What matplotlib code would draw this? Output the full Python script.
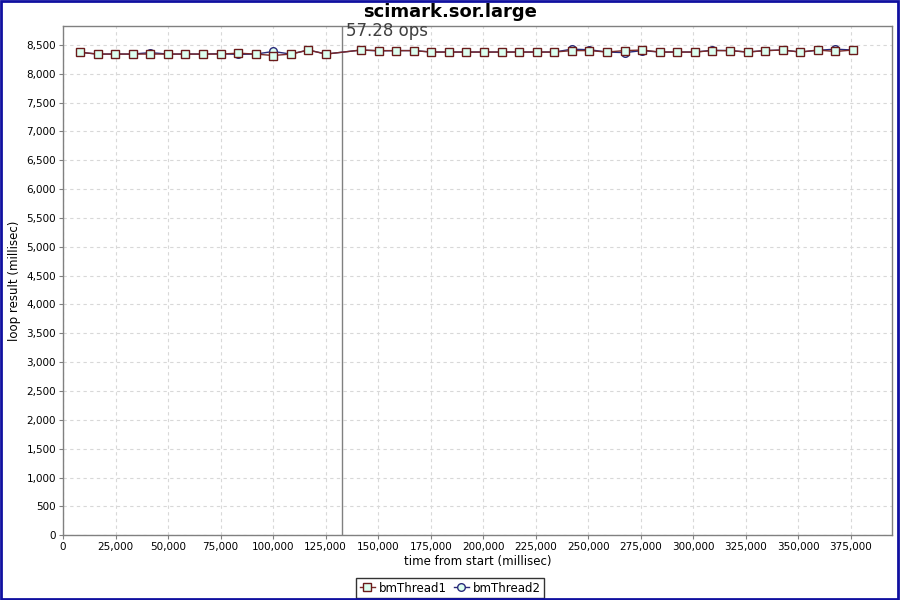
import matplotlib
matplotlib.use("Agg")
import matplotlib.pyplot as plt
from matplotlib.ticker import FuncFormatter, MultipleLocator
from matplotlib.patches import Rectangle

# sample times (ms) - one sample missing around 133,000
time_ms = [8100, 16460, 24820, 33180, 41540, 49900, 58260, 66620, 74980, 83340,
           91700, 100060, 108420, 116780, 125140, 141860, 150220, 158580, 166940,
           175300, 183660, 192020, 200380, 208740, 217100, 225460, 233820, 242180,
           250540, 258900, 267260, 275620, 283980, 292340, 300700, 309060, 317420,
           325780, 334140, 342500, 350860, 359220, 367580, 375940]

thread1 = [8370, 8340, 8340, 8340, 8340, 8340, 8340, 8340, 8340, 8355,
           8340, 8315, 8340, 8410, 8340, 8410, 8400, 8400, 8400,
           8375, 8375, 8375, 8375, 8375, 8375, 8375, 8375, 8400,
           8400, 8375, 8400, 8410, 8375, 8375, 8375, 8400, 8400,
           8375, 8400, 8410, 8375, 8410, 8385, 8410]

thread2 = [8370, 8340, 8340, 8340, 8365, 8340, 8340, 8340, 8345, 8335,
           8340, 8385, 8340, 8410, 8340, 8410, 8395, 8400, 8400,
           8375, 8375, 8375, 8375, 8375, 8375, 8375, 8375, 8425,
           8415, 8375, 8365, 8400, 8375, 8375, 8375, 8405, 8400,
           8375, 8400, 8410, 8375, 8405, 8425, 8410]

marker_time = 132800
marker_label = "57.28 ops"

fig = plt.figure(figsize=(9, 6), dpi=100)
ax = fig.add_axes([0.07, 0.108, 0.921, 0.849])

ax.plot(time_ms, thread2, color="#2a2a7a", lw=1.0, marker="o", ms=5.5,
        mfc="#ddfff0", mec="#2a2a7a", mew=1.0, label="bmThread2", zorder=3)
ax.plot(time_ms, thread1, color="#7a2a2a", lw=1.0, marker="s", ms=6,
        mfc="#ddfff0", mec="#6a1a1a", mew=1.0, label="bmThread1", zorder=4)

ax.axvline(marker_time, color="#808080", lw=1.0, zorder=2)
ax.text(marker_time + 1800, 8743, marker_label, fontsize=12, color="#404040",
        va="center", ha="left", zorder=5)

ax.set_xlim(0, 394500)
ax.set_ylim(0, 8830)
ax.xaxis.set_major_locator(MultipleLocator(25000))
ax.yaxis.set_major_locator(MultipleLocator(500))
fmt = FuncFormatter(lambda v, p: f"{int(v):,}")
ax.xaxis.set_major_formatter(fmt)
ax.yaxis.set_major_formatter(fmt)
ax.tick_params(labelsize=7.5, length=3, color="#808080", pad=2)

ax.grid(True, color="#d8d8d8", ls=(0, (3, 3)), lw=0.8)
ax.set_axisbelow(True)
for s in ax.spines.values():
    s.set_color("#808080")
    s.set_linewidth(1.0)

ax.set_xlabel("time from start (millisec)", fontsize=8.5, labelpad=2)
ax.set_ylabel("loop result (millisec)", fontsize=8.5, labelpad=4)
fig.text(0.5, 0.98, "scimark.sor.large", fontsize=13, fontweight="bold",
         ha="center", va="center")

h, l = ax.get_legend_handles_labels()
leg = fig.legend(h[::-1], l[::-1], loc="center", bbox_to_anchor=(0.5, 0.02),
                 ncol=2, fontsize=8.5, frameon=True, fancybox=False,
                 handlelength=1.3, handletextpad=0.3, columnspacing=0.6,
                 borderpad=0.3, borderaxespad=0)
leg.get_frame().set_edgecolor("black")
leg.get_frame().set_linewidth(1.0)

fig.patches.append(Rectangle((0.001, 0.002), 0.997, 0.996, transform=fig.transFigure,
                             fill=False, edgecolor="#1010a0", lw=2, zorder=10))

fig.savefig("out.png", dpi=100)
